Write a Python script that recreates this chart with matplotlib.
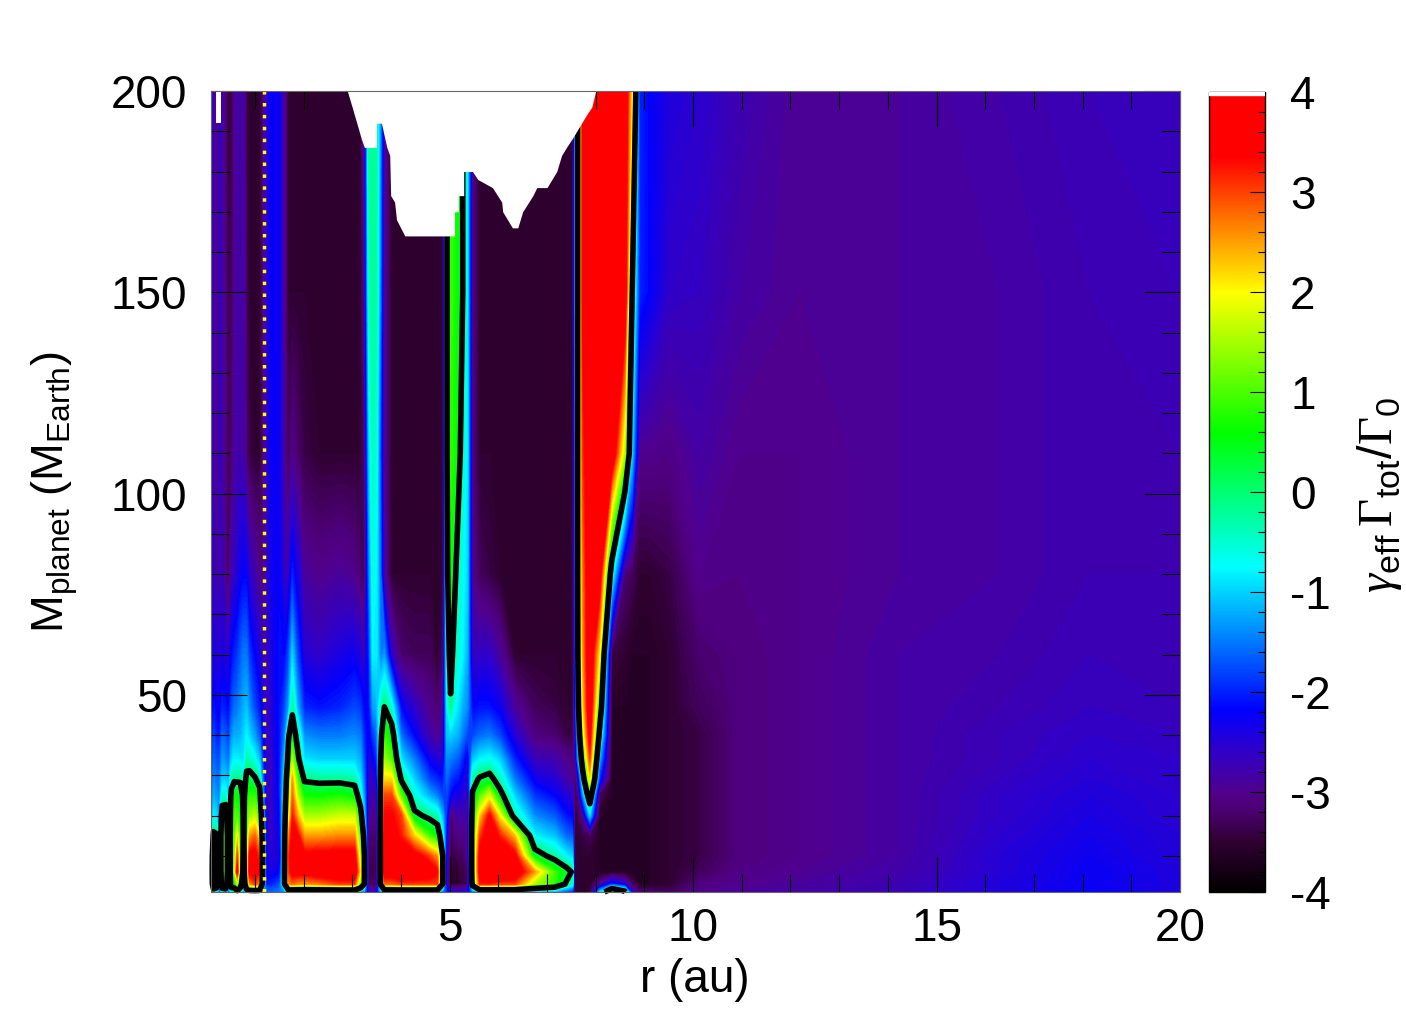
import numpy as np
import matplotlib
matplotlib.use("Agg")
import matplotlib.pyplot as plt
from matplotlib.cm import ScalarMappable
from matplotlib.colors import LinearSegmentedColormap, Normalize
from matplotlib.ticker import MultipleLocator

plt.rcParams["font.family"] = ["Liberation Sans", "DejaVu Sans"]
plt.rcParams["mathtext.fontset"] = "custom"
plt.rcParams["mathtext.rm"] = "Liberation Sans"
plt.rcParams["mathtext.bf"] = "Liberation Serif"
plt.rcParams["mathtext.cal"] = "Liberation Serif:italic"
plt.rcParams["axes.unicode_minus"] = False

mass_levels = [1, 3, 6, 10, 15, 20, 25, 29, 34, 40, 47, 60, 80, 110, 150, 200]

# (r in au, gamma_eff Gamma_tot/Gamma_0 at each of mass_levels)
columns = [
    (0.10, [-2.0, -1.0, -1.0, -1.2, -1.4, -1.6, -1.8, -2.0, -2.2, -2.4, -2.5, -2.6, -2.8, -2.9, -2.9, -2.9]),
    (0.15, [-0.5, 0.8, 1.0, 1.0, 0.2, -0.8, -1.2, -1.4, -1.6, -1.8, -2.1, -2.4, -2.6, -2.7, -2.7, -2.7]),
    (0.21, [-0.5, 0.5, 0.6, 0.5, 0.1, -0.9, -1.3, -1.5, -1.7, -2.0, -2.2, -2.5, -3.0, -3.1, -3.1, -3.1]),
    (0.27, [-2.0, -1.5, -1.4, -1.3, -1.3, -1.4, -1.5, -1.6, -1.8, -2.1, -2.3, -2.5, -2.7, -2.7, -2.7, -2.7]),
    (0.33, [-0.5, 0.6, 1.0, 1.0, 1.0, 0.5, -0.5, -1.0, -1.3, -1.6, -2.0, -2.4, -2.7, -2.8, -2.8, -2.8]),
    (0.40, [-0.5, 0.8, 1.2, 1.2, 1.2, 0.6, -0.5, -1.0, -1.4, -1.7, -2.1, -2.5, -3.1, -3.1, -3.1, -3.2]),
    (0.46, [-1.8, -1.0, -0.8, -0.8, -0.8, -0.9, -1.0, -1.2, -1.6, -1.9, -2.2, -2.5, -3.2, -3.4, -3.4, -3.5]),
    (0.52, [-0.6, 0.5, 0.6, 0.6, 0.6, 0.5, 0.3, -0.4, -1.0, -1.4, -1.8, -2.2, -2.8, -3.2, -3.3, -3.4]),
    (0.58, [-0.5, 0.5, 1.5, 1.2, 1.0, 1.0, 0.6, -0.1, -0.8, -1.2, -1.6, -2.0, -2.6, -2.9, -3.0, -3.0]),
    (0.64, [-0.3, 1.5, 3.6, 3.0, 2.0, 1.0, 0.5, -0.1, -0.8, -1.2, -1.5, -1.9, -2.5, -2.8, -2.8, -2.8]),
    (0.70, [-0.5, 0.5, 1.0, 1.0, 0.8, 0.6, 0.4, -0.1, -0.9, -1.2, -1.4, -1.7, -2.3, -2.8, -2.9, -2.9]),
    (0.77, [-1.4, -0.8, -0.3, -0.2, -0.1, -0.1, -0.2, -0.5, -0.9, -1.0, -1.2, -1.5, -2.2, -2.8, -2.8, -2.8]),
    (0.83, [-0.5, 1.0, 1.0, 1.0, 0.8, 0.6, 0.5, 0.2, -0.3, -0.8, -1.1, -1.5, -2.2, -3.2, -3.3, -3.4]),
    (0.89, [-0.6, 2.5, 3.6, 3.5, 2.5, 1.4, 0.8, 0.3, -0.4, -1.0, -1.4, -1.9, -2.6, -3.4, -3.5, -3.5]),
    (1.00, [-0.6, 3.0, 3.6, 3.6, 2.8, 1.6, 0.8, 0.1, -0.7, -1.3, -1.8, -2.2, -2.8, -3.5, -3.5, -3.5]),
    (1.10, [-0.6, 2.5, 3.3, 3.0, 2.0, 1.0, 0.3, -0.3, -1.1, -1.7, -2.1, -2.4, -3.0, -3.5, -3.5, -3.5]),
    (1.16, [-1.3, -0.4, -0.3, -0.3, -0.5, -0.8, -1.2, -1.5, -1.9, -2.2, -2.4, -2.7, -3.1, -3.2, -3.2, -3.2]),
    (1.24, [-1.6, -2.1, -2.3, -2.4, -2.5, -2.6, -2.7, -2.7, -2.7, -2.7, -2.7, -2.7, -2.7, -2.7, -2.6, -2.6]),
    (1.34, [-1.6, -2.0, -2.4, -2.5, -2.6, -2.6, -2.6, -2.6, -2.6, -2.5, -2.5, -2.4, -2.3, -2.2, -2.2, -2.2]),
    (1.51, [-1.5, -1.8, -2.2, -2.4, -2.3, -2.2, -2.1, -2.1, -2.1, -2.1, -2.1, -2.1, -2.2, -2.3, -2.3, -2.3]),
    (1.61, [-1.3, 0.0, 0.0, -0.1, -0.2, -0.3, -0.5, -0.7, -1.1, -1.5, -1.8, -2.2, -2.7, -3.0, -3.0, -3.0]),
    (1.69, [-0.8, 2.5, 3.0, 3.0, 2.5, 1.5, 1.0, 0.8, 0.3, -0.1, -1.3, -1.8, -2.6, -3.3, -3.5, -3.5]),
    (1.77, [-1.0, 2.8, 3.6, 3.8, 3.6, 3.2, 2.8, 2.5, 1.5, 0.5, -0.2, -1.0, -2.0, -3.0, -3.5, -3.5]),
    (1.88, [-1.0, 2.6, 3.6, 3.8, 3.4, 2.4, 1.6, 1.0, 0.2, -0.3, -1.2, -1.8, -2.4, -3.2, -3.5, -3.5]),
    (2.02, [-1.0, 2.5, 3.6, 3.5, 2.5, 1.5, 0.6, -0.1, -0.9, -1.4, -2.0, -2.5, -2.9, -3.4, -3.5, -3.5]),
    (2.33, [-1.0, 2.7, 3.8, 3.6, 2.5, 1.5, 0.6, -0.2, -1.0, -1.5, -2.1, -2.6, -3.0, -3.5, -3.5, -3.5]),
    (2.74, [-1.0, 3.0, 4.0, 3.6, 2.6, 1.7, 0.7, -0.2, -1.0, -1.5, -2.0, -2.4, -2.9, -3.5, -3.5, -3.5]),
    (3.05, [-1.0, 3.0, 4.0, 3.6, 2.6, 1.7, 0.5, -0.3, -1.0, -1.4, -1.8, -2.3, -3.0, -3.5, -3.5, -3.5]),
    (3.17, [-1.2, 1.2, 2.0, 1.5, 1.0, 0.4, -0.5, -0.9, -1.2, -1.5, -1.9, -2.5, -3.2, -3.5, -3.5, -3.5]),
    (3.25, [-1.5, 0.0, 0.0, 0.0, -0.3, -1.0, -1.4, -1.6, -1.8, -2.0, -2.2, -2.7, -3.3, -3.2, -3.0, -2.9]),
    (3.34, [-2.8, -3.3, -3.4, -3.3, -3.2, -3.0, -2.8, -2.7, -2.5, -2.3, -2.2, -2.0, -1.6, -1.1, -0.5, -0.2]),
    (3.42, [-2.7, -3.3, -3.4, -3.3, -3.2, -3.0, -2.8, -2.6, -2.3, -1.9, -1.3, -0.8, -0.6, -0.4, -0.2, -0.2]),
    (3.50, [-2.5, -3.2, -3.3, -3.3, -3.2, -3.0, -2.7, -2.4, -2.0, -1.6, -1.2, -0.8, -0.8, -0.6, -0.3, -0.2]),
    (3.58, [-1.3, 0.1, 0.1, 0.1, 0.1, 0.1, 0.1, 0.0, -0.1, -0.3, -0.5, -1.5, -1.6, -1.8, -1.5, -1.4]),
    (3.66, [-1.0, 2.8, 3.8, 3.8, 3.6, 3.4, 3.0, 2.2, 1.4, 0.8, 0.0, -1.3, -2.9, -3.0, -3.0, -2.9]),
    (3.81, [-1.0, 2.8, 3.8, 3.8, 3.6, 3.4, 3.0, 2.2, 1.0, 0.4, -0.6, -2.6, -3.5, -3.5, -3.5, -3.5]),
    (4.01, [-1.0, 3.0, 4.0, 3.8, 3.2, 3.0, 1.0, -0.1, -0.9, -1.6, -2.2, -3.2, -3.5, -3.5, -3.5, -3.5]),
    (4.28, [-1.0, 3.0, 4.0, 3.6, 2.2, 0.2, -0.6, -1.0, -1.5, -2.2, -2.6, -3.3, -3.5, -3.5, -3.5, -3.5]),
    (4.59, [-1.0, 3.0, 3.8, 3.0, 0.9, -0.2, -1.2, -1.8, -2.3, -2.8, -3.0, -3.3, -3.5, -3.5, -3.5, -3.5]),
    (4.75, [-1.0, 3.0, 3.4, 2.5, 0.5, -0.4, -1.5, -2.0, -2.5, -3.0, -3.2, -3.5, -3.5, -3.5, -3.5, -3.5]),
    (4.86, [-1.5, 0.0, 0.0, 0.0, -0.6, -1.2, -1.8, -2.1, -2.5, -2.8, -3.0, -3.3, -3.5, -3.5, -3.5, -3.5]),
    (4.94, [-2.0, -2.8, -2.8, -2.5, -2.3, -2.0, -1.8, -1.6, -1.4, -1.1, -0.9, -0.6, -0.2, -0.1, -0.1, -0.1]),
    (5.02, [-2.5, -3.5, -3.5, -3.4, -3.3, -3.2, -2.2, -1.9, -1.5, -1.0, -0.1, 0.3, 0.6, 0.8, 0.9, 0.9]),
    (5.10, [-2.5, -3.5, -3.5, -3.4, -3.2, -3.0, -2.4, -2.0, -1.6, -1.1, -0.7, -0.3, 0.2, 0.7, 0.7, 0.7]),
    (5.18, [-2.6, -3.5, -3.5, -3.3, -3.0, -2.8, -2.4, -2.1, -1.7, -1.2, -0.9, -0.6, -0.4, 0.3, 0.5, 0.5]),
    (5.27, [-2.5, -3.4, -3.4, -3.3, -3.1, -2.8, -2.5, -2.3, -2.0, -1.5, -1.2, -0.8, -0.7, -0.4, 0.0, 0.0]),
    (5.37, [-2.5, -3.3, -3.3, -3.0, -3.0, -2.9, -2.8, -2.6, -2.5, -1.8, -1.4, -1.2, -1.0, -0.9, -0.9, -0.9]),
    (5.47, [-1.5, 0.4, 0.6, 0.6, 0.6, 0.4, 0.1, -0.3, -1.1, -1.8, -2.2, -2.7, -3.0, -3.1, -3.1, -3.1]),
    (5.62, [-1.2, 3.2, 3.6, 3.6, 3.0, 2.2, 1.0, 0.1, -0.8, -1.6, -2.1, -2.6, -3.3, -3.5, -3.5, -3.5]),
    (5.82, [-1.2, 3.2, 4.0, 3.8, 3.8, 3.4, 1.8, 0.3, -0.7, -1.5, -2.1, -2.6, -3.4, -3.5, -3.5, -3.5]),
    (6.03, [-1.2, 3.0, 4.0, 3.8, 3.2, 2.0, 0.3, -0.4, -1.0, -1.8, -2.3, -2.9, -3.5, -3.5, -3.5, -3.5]),
    (6.34, [-1.2, 3.0, 3.9, 3.5, 2.3, -0.4, -1.0, -1.5, -2.0, -2.5, -2.9, -3.5, -3.5, -3.5, -3.5, -3.5]),
    (6.75, [-1.2, 1.5, 2.5, 0.4, -0.8, -1.4, -1.9, -2.3, -2.7, -3.1, -3.3, -3.5, -3.5, -3.5, -3.5, -3.5]),
    (7.16, [-1.2, 0.8, 0.9, -0.3, -1.1, -1.7, -2.2, -2.5, -2.8, -3.2, -3.4, -3.5, -3.5, -3.5, -3.5, -3.5]),
    (7.40, [-1.8, -0.1, 0.3, -0.8, -1.6, -2.1, -2.5, -2.8, -3.0, -3.4, -3.5, -3.5, -3.5, -3.5, -3.5, -3.5]),
    (7.53, [-2.0, -0.6, -0.1, -1.0, -1.7, -2.2, -2.6, -2.9, -3.1, -3.4, -3.5, -3.5, -3.5, -3.5, -3.5, -3.5]),
    (7.57, [-3.5, -3.5, -3.5, -3.5, -3.5, -3.5, -3.4, -3.3, -3.0, -2.8, -2.5, -2.2, -2.0, -1.8, -1.5, -1.5]),
    (7.63, [-3.5, -3.5, -3.5, -3.5, -3.5, -3.4, -3.2, -2.8, -1.5, -1.0, -0.4, -0.1, 0.0, 0.0, 0.0, 0.0]),
    (7.73, [-3.5, -3.5, -3.5, -3.5, -3.4, -3.0, -1.5, -0.5, 0.5, 1.5, 2.0, 2.4, 2.6, 3.0, 3.4, 3.4]),
    (7.88, [-3.5, -3.5, -3.5, -3.5, -3.3, -1.0, 0.7, 2.0, 3.0, 3.6, 4.0, 4.0, 4.0, 4.0, 4.0, 4.0]),
    (8.08, [-1.0, -3.0, -3.6, -3.6, -3.6, -3.6, -3.3, -2.0, -1.2, -0.2, 0.7, 2.0, 3.8, 4.0, 4.0, 4.0]),
    (8.33, [1.5, -2.0, -3.6, -3.6, -3.6, -3.6, -3.6, -3.6, -3.6, -3.6, -3.6, -3.4, -0.5, 4.0, 4.0, 4.0]),
    (8.60, [0.3, -2.5, -3.6, -3.6, -3.6, -3.6, -3.6, -3.6, -3.6, -3.6, -3.6, -3.5, -3.2, 1.5, 4.0, 4.0]),
    (8.75, [-2.5, -3.3, -3.6, -3.6, -3.6, -3.6, -3.6, -3.6, -3.6, -3.6, -3.6, -3.6, -3.3, -1.0, 0.0, 2.0]),
    (8.90, [-3.2, -3.6, -3.6, -3.6, -3.6, -3.6, -3.6, -3.6, -3.6, -3.6, -3.6, -3.6, -3.5, -3.0, -2.0, -2.0]),
    (9.11, [-3.2, -3.6, -3.6, -3.6, -3.6, -3.6, -3.6, -3.6, -3.6, -3.6, -3.6, -3.6, -3.5, -3.0, -2.2, -2.2]),
    (9.52, [-3.3, -3.5, -3.5, -3.5, -3.5, -3.5, -3.5, -3.5, -3.5, -3.5, -3.5, -3.5, -3.4, -3.05, -2.6, -2.45]),
    (10.14, [-3.0, -3.1, -3.3, -3.4, -3.4, -3.4, -3.4, -3.4, -3.4, -3.4, -3.3, -3.2, -3.0, -2.85, -2.65, -2.55]),
    (10.96, [-2.9, -3.0, -3.05, -3.1, -3.1, -3.1, -3.1, -3.1, -3.1, -3.1, -3.1, -3.1, -3.05, -3.0, -2.85, -2.75]),
    (12.19, [-2.85, -2.9, -2.95, -3.0, -3.0, -3.0, -3.0, -3.0, -3.0, -3.0, -3.0, -3.0, -3.0, -3.0, -2.95, -2.95]),
    (14.25, [-2.7, -2.75, -2.8, -2.85, -2.85, -2.85, -2.85, -2.85, -2.85, -2.85, -2.85, -2.85, -2.9, -2.9, -2.9, -2.9]),
    (16.30, [-2.45, -2.45, -2.5, -2.5, -2.55, -2.6, -2.6, -2.65, -2.7, -2.7, -2.75, -2.8, -2.85, -2.85, -2.85, -2.8]),
    (18.15, [-2.2, -2.25, -2.25, -2.3, -2.35, -2.4, -2.45, -2.5, -2.55, -2.6, -2.65, -2.7, -2.75, -2.75, -2.75, -2.7]),
    (20.00, [-2.45, -2.45, -2.45, -2.5, -2.5, -2.55, -2.55, -2.6, -2.6, -2.65, -2.7, -2.7, -2.75, -2.75, -2.7, -2.65]),
]

# upper limit of the computed region (white above)
edge_r = [2.90, 3.01, 3.19, 3.25, 3.50, 3.50, 3.60, 3.71, 3.77, 3.79, 3.87, 3.91, 4.08, 5.10, 5.10, 5.18,
          5.18, 5.29, 5.29, 5.47, 5.58, 5.88, 6.07, 6.09, 6.29, 6.40, 6.50, 6.71, 6.79, 7.00, 7.20, 7.30,
          7.40, 7.51, 7.61, 7.71, 7.81, 7.92, 8.00]
edge_mass = [200, 195.5, 188, 186, 186, 192, 192, 186, 184, 174, 172.4, 168, 164, 164, 170, 170,
             174, 174, 180, 180, 178, 176, 172.4, 170, 166, 166, 170, 174, 176, 176, 180, 184,
             186, 188, 190, 192, 194, 196, 200]
strip_r = [0.21, 0.30]
strip_mass = 192

snow_line_r = 1.19
x_ticks = [5, 10, 15, 20]
y_ticks = [50, 100, 150, 200]
bar_ticks = [-4, -3, -2, -1, 0, 1, 2, 3, 4]

stops = [(-4.0, "#000000"), (-3.5, "#300030"), (-3.2, "#4b0070"), (-3.0, "#50008c"), (-2.6, "#3000c8"),
         (-2.18, "#0000ff"), (-0.75, "#00ffff"), (0.59, "#00ff00"), (2.0, "#ffff00"), (3.35, "#ff0000"),
         (4.0, "#ff0000")]
cmap = LinearSegmentedColormap.from_list("gamma", [((v + 4) / 8, c) for v, c in stops], N=512)
norm = Normalize(-4, 4)

r_values = np.array([c[0] for c in columns])
z_values = np.array([c[1] for c in columns]).T

W, H = 1406, 1015
fig = plt.figure(figsize=(W / 100, H / 100), dpi=100)
ax = fig.add_axes([211 / W, 1 - 892 / H, (1180 - 211) / W, (892 - 91) / H])

ax.contourf(r_values, mass_levels, z_values, levels=np.linspace(-4, 4, 161), cmap=cmap, norm=norm,
            antialiased=False, zorder=1)
lines = ax.contour(r_values, mass_levels, z_values, levels=[0], colors="black", linewidths=4, zorder=2)
lines.set_clip_on(False)
ax.fill_between(edge_r, edge_mass, 201, color="white", linewidth=0, zorder=3)
ax.fill_between(strip_r, strip_mass, 200, color="white", linewidth=0, zorder=3)
ax.axvline(snow_line_r, color="#ffff00", linewidth=2.5, linestyle=(0, (1, 2.43)), zorder=4)

ax.set_xlim(0.1, 20)
ax.set_ylim(1, 200)
ax.set_xticks(x_ticks)
ax.set_yticks(y_ticks)
ax.xaxis.set_minor_locator(MultipleLocator(1))
ax.yaxis.set_minor_locator(MultipleLocator(10))
ax.tick_params(which="both", direction="in", top=True, right=True, width=0.8, color="black", zorder=5)
ax.tick_params(which="major", length=26)
ax.tick_params(which="minor", length=13)
ax.tick_params(axis="x", which="major", labelsize=33, pad=11)
ax.tick_params(axis="y", which="major", labelsize=33, pad=17)
for side in ax.spines.values():
    side.set_linewidth(0.8)
    side.set_color("#666666")
    side.set_zorder(6)

cax = fig.add_axes([1209 / W, 1 - 892 / H, 56 / W, 800 / H])
bar = fig.colorbar(ScalarMappable(norm=norm, cmap=cmap), cax=cax)
bar.set_ticks(bar_ticks)
bar.set_ticklabels([str(v) for v in bar_ticks])
bar.ax.yaxis.set_minor_locator(MultipleLocator(0.2))
bar.ax.tick_params(which="both", direction="in", right=True, left=False, width=0.8)
bar.ax.tick_params(which="major", length=10.5, labelsize=33, pad=18)
bar.ax.tick_params(which="minor", length=5)
bar.outline.set_linewidth(1.0)
bar.ax.axhspan(3.97, 4, color="white", zorder=3)

fig.text(695 / W, 1 - 980 / H, "r (au)", fontsize=33, ha="center", va="center")
fig.text(55 / W, 1 - 492 / H, r"M$_{\mathrm{planet}}$ (M$_{\mathrm{Earth}}$)", fontsize=32.5,
         rotation=90, ha="center", va="center")
fig.text(1379 / W, 1 - 495 / H,
         r"$\mathcal{\gamma}_{\mathrm{eff}}\,\mathbf{\Gamma}_{\mathrm{tot}}/\mathbf{\Gamma}_{\mathrm{0}}$",
         fontsize=35, rotation=90, ha="center", va="center")

fig.savefig("out.png", dpi=100)
